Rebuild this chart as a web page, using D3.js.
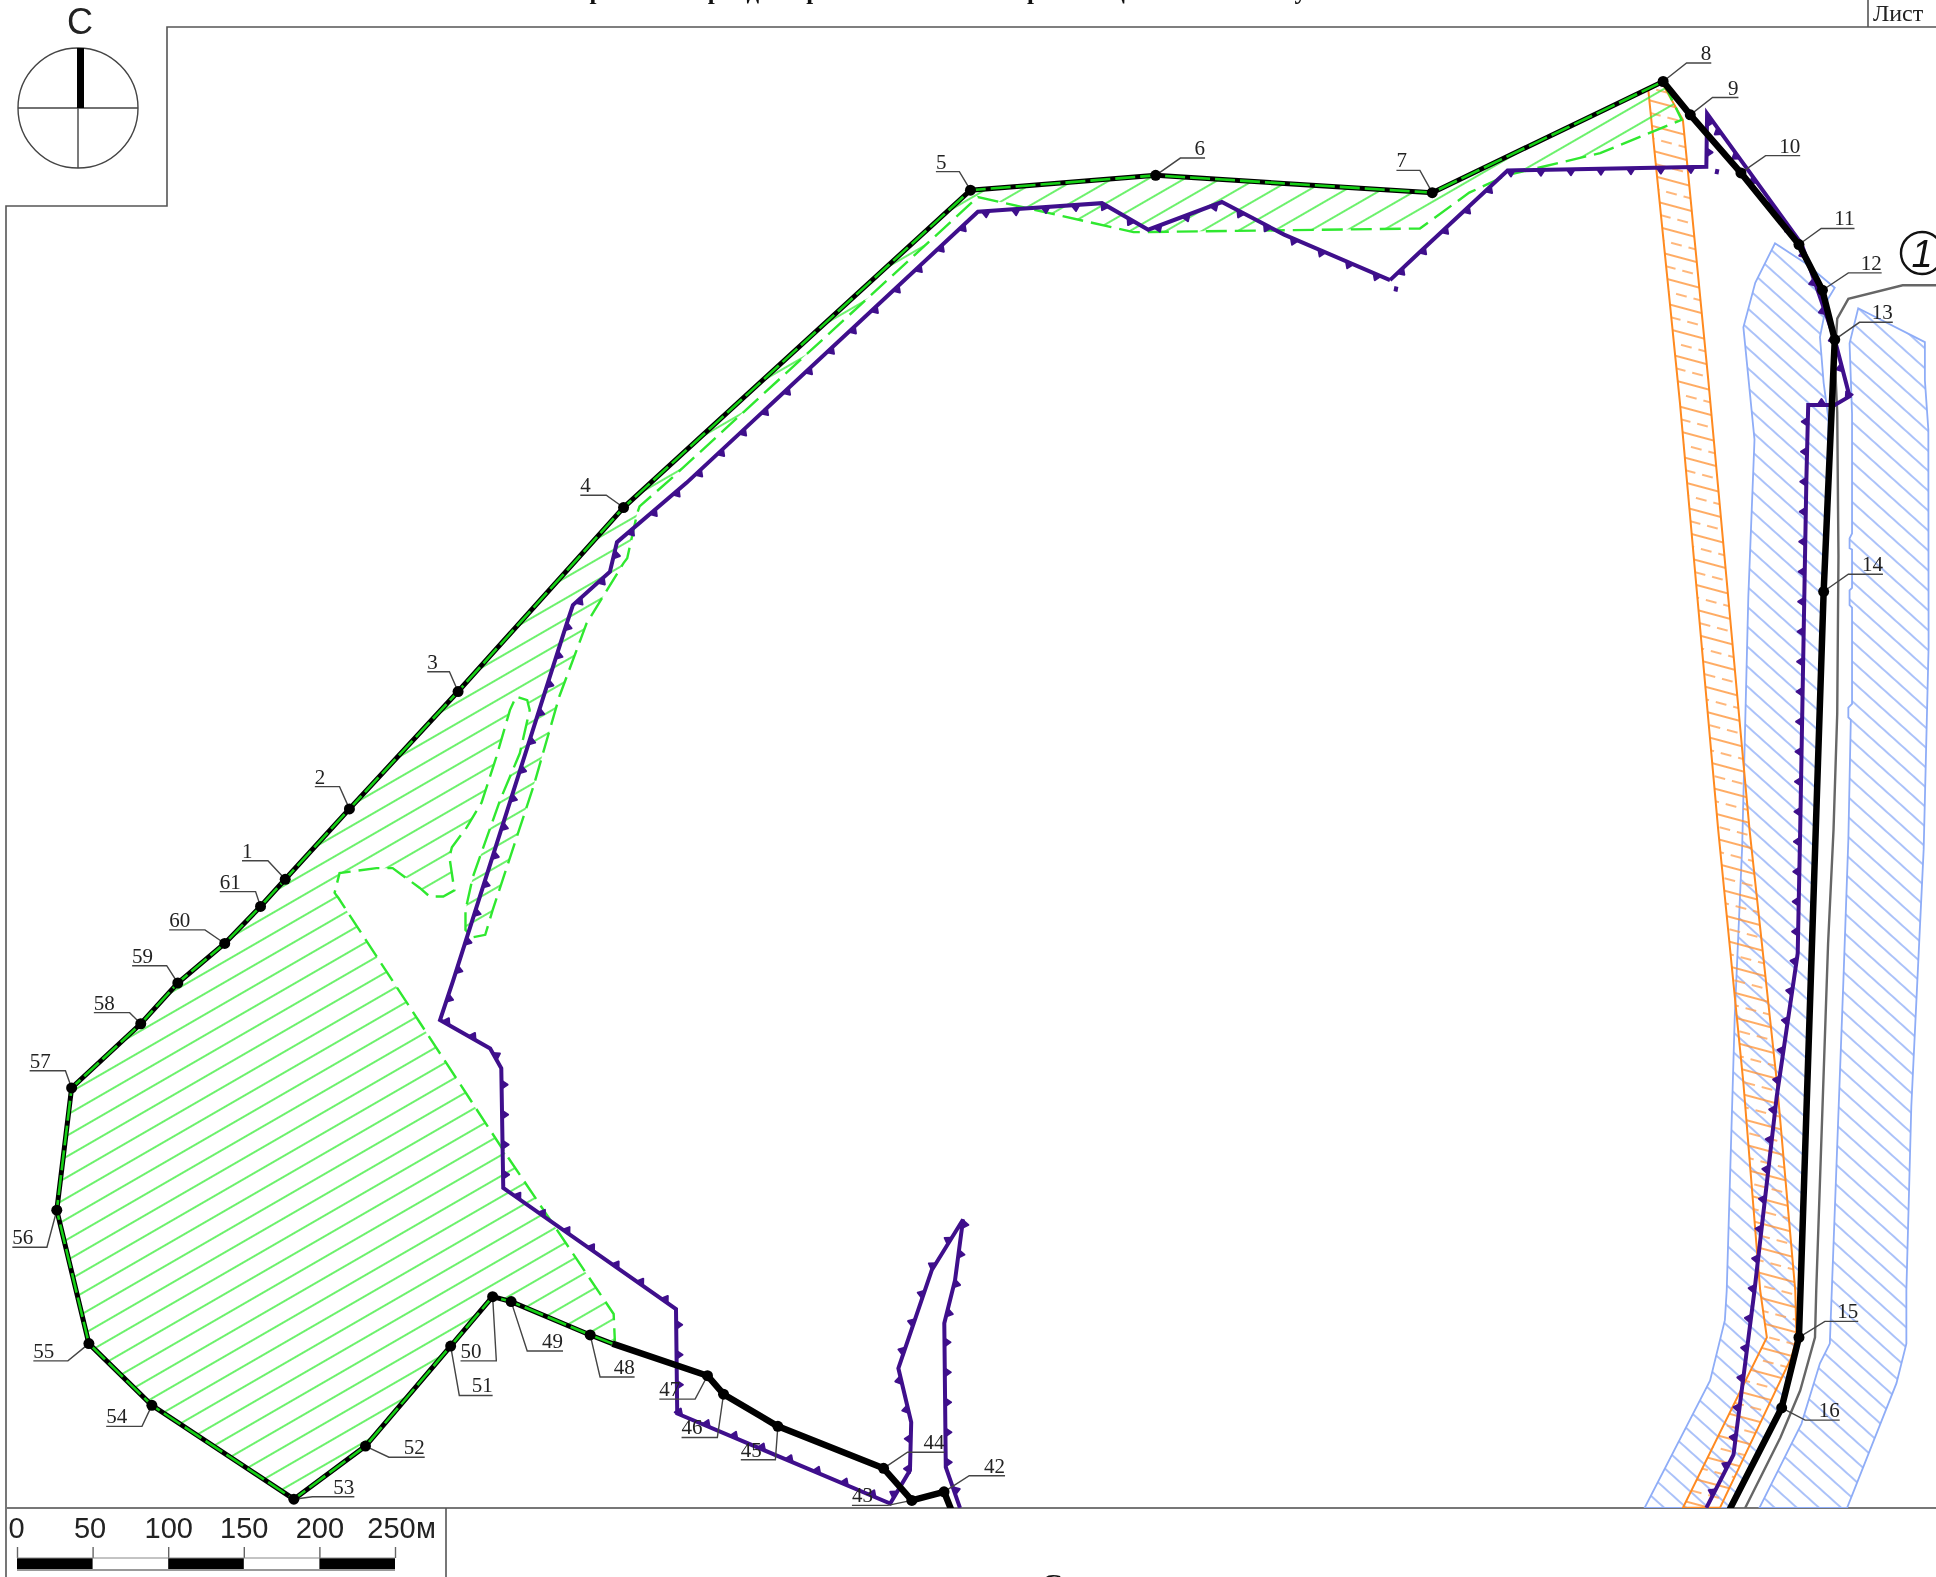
<!DOCTYPE html>
<html>
<head>
<meta charset="utf-8">
<script src="https://d3js.org/d3.v7.min.js"></script>
<style>
html, body { margin: 0; padding: 0; background: #fff; overflow: hidden; }
svg { display: block; filter: blur(0.45px); }
.num { font-family: "Liberation Serif", serif; font-size: 21px; fill: #222; }
.scaletxt { font-family: "Liberation Sans", sans-serif; font-size: 29px; fill: #222; }
</style>
</head>
<body>
<script>

// turning points of the plot boundary: id, x, y
var boundaryEast = [
  [8,1347,66],[9,1369,93],[10,1410,140],[11,1457,198],[12,1476,235],[13,1486,275],
  [14,1477,479],[15,1457,1083],[16,1443,1140]
]
var boundaryTailEast = [[1400,1224]]
var boundarySouth = [
  [42,764.6,1208],[43,738.5,1215],[44,715.6,1189],[45,630,1155],[46,586,1129],[47,573,1114]
]
var boundaryTailSouth = [[771,1224]]
var boundaryWest = [
  [48,478,1081],[49,414,1054],[50,399,1050],[51,365,1090],[52,296,1171],[53,238,1214],
  [54,123,1138],[55,72,1088],[56,46,980],[57,58,881],[58,114,829],[59,144,796],
  [60,182,764],[61,211,734],[1,231,712],[2,283,655],[3,371,560],[4,505,411],
  [5,786,154],[6,936,142],[7,1160,156]
]
var greenStart = [[496,1088]]

// label underlines: id, x from, x to, y
var labelLines = [
  [1,196,217,697],[2,255,275,637],[3,346,364,544],[4,470,491,401],[5,758,777,139],[6,956,976,128],
  [7,1131,1150,138],[8,1366,1386,51],[9,1387,1408,79],[10,1430,1458,126],[11,1475,1502,185],
  [12,1497,1524,221],[13,1506,1533,261],[14,1497,1525,465],[15,1478,1505,1070],[16,1462,1490,1150],
  [42,785,814,1195],[43,690,719,1219],[44,735,765,1176],[45,600,628,1182],[46,552,581,1164],
  [47,534,563,1133],[48,486,514,1115],[49,427,456,1094],[50,373,402,1102],[51,372,399,1130],
  [52,315,344,1180],[53,253,287,1212],[54,86,115,1155],[55,27,55,1102],[56,10,38,1010],
  [57,24,53,867],[58,76,105,820],[59,107,135,782],[60,137,166,753],[61,178,207,722]
]

// inner edge of the green zone, from point 8 back round to the cut at the west side
var greenInner = [
  [1362,97],[1296,124],[1220,142],[1190,156],[1150,185],[918,188],[792,159.5],[542,389],[518,410],[516,416],
  [508,452],[505,456],[475,505],[453,564],[432,637],[399,737],[393,757],[383,759],[377,753],[377,737],
  [383,710],[405,648],[421,610],[429,575],[427,567],[418,564],[413,575],[402,613],[390,650],[378,670],
  [366,686],[364,694],[368,721],[359,726],[348,726],[340,719],[318,703],[305,703],[275,707],[271,723],
  [274,727],[340,828],[410,935],[497,1064],[498,1086]
]

// orange strip
var orangeStrip = [
  [1335,73],[1346,67],[1363,97],[1383.6,308],[1417,672],[1439,875],[1454,1045],[1455,1083],[1451,1099],
  [1393,1221],[1363,1221],[1431,1083],[1425.6,1045],[1412,877],[1391.6,672],[1360.6,326]
]

// blue bands either side of the road
var blueWest = [
  [1437.6,197],[1462,213],[1486,233],[1480,243],[1474,273],[1477,310],[1481,340],[1478,479],[1458,1083],
  [1443,1140],[1400,1221],[1332,1221],[1385,1118],[1397,1069],[1398.5,1045],[1405,823],[1411,686],
  [1416,483],[1421,356],[1412,265],[1421.6,229]
]
var blueEast = [
  [1505,249.6],[1559,277],[1559,308],[1561.8,348],[1562,524],[1558,688],[1548,896],[1544,1045],[1544,1088],
  [1536,1120],[1496,1221],[1425,1221],[1459,1153],[1474,1104],[1482,1088],[1483.6,1045],[1493,794],
  [1497,680],[1499,583],[1497,581],[1497,573],[1500,570],[1500,492],[1498,490],[1498,478],[1500,476],
  [1500,445],[1498,444],[1498,436],[1500,432],[1500,335],[1498,278]
]

// road centre line (grey)
var road = [
  [1570,231],[1541,231],[1497,242],[1488,258],[1486,290],[1488,334],[1489,450],[1488,578],[1485,672],
  [1480.6,764],[1471,1045],[1470,1083],[1458,1126],[1442,1164],[1412,1224]
]

// purple slope lines
var slopeNorthWest = [
  [1125.8,226.8],[1040,190],[989.6,163.6],[930,186],[892.5,164.5],[792,171.5],[556,391],[499.7,439],[494,463],
  [464,490],[459,505],[367,794],[356.4,826],[397,849],[406,865],[407.6,962],[547.5,1060],[548.5,1144.6],
  [721,1217.5],[737,1190.6],[738,1151.7],[727.6,1108],[754.6,1028.6],[780,987.5],[773.5,1036.7],
  [764.8,1071.6],[766,1188],[777.5,1221]
]
var slopeEast = [
  [1125.8,226.8],[1150,204],[1221,138],[1382,135],[1382.6,92],[1458,196],[1460,200],[1486,275],[1498,321],[1486,328],
  [1464.5,328],[1463,389],[1458,672],[1456,772],[1439,888],[1421,1045],[1404,1178],[1382,1221]
]
var strayTicks = [[1391,137],[1131,232]]

// scale bar
var scaleTicks = [0,50,100,150,200,250]
var scaleBlack = [[0,50],[100,150],[200,250]]

var width = 1936, height = 1577
var x = d3.scaleLinear().domain([0,1568]).range([0,width])
var y = d3.scaleLinear().domain([0,1277]).range([0,height])

var svg = d3.select('body').append('svg').attr('width',width).attr('height',height)
var defs = svg.append('defs')

defs.append('clipPath').attr('id','map').append('rect')
  .attr('x',6).attr('y',0).attr('width',width).attr('height',1508)

// hatch patterns ---------------------------------------------------
function hatch(id, angle, step){
  return defs.append('pattern').attr('id',id)
    .attr('patternUnits','userSpaceOnUse')
    .attr('width',36).attr('height',step)
    .attr('patternTransform','rotate(' + angle + ')')
}
hatch('hGreen',-30,18).append('line').attr('x1',0).attr('x2',36).attr('y1',9).attr('y2',9)
  .attr('stroke','#3cec3c').attr('stroke-width',1.5)
hatch('hBlue',42,14.8).append('line').attr('x1',0).attr('x2',36).attr('y1',7).attr('y2',7)
  .attr('stroke','#8fadf7').attr('stroke-width',1.5)
var po = hatch('hOrange',15,24)
po.append('line').attr('x1',0).attr('x2',36).attr('y1',6).attr('y2',6)
  .attr('stroke','#ff9030').attr('stroke-width',1.5)
po.append('line').attr('x1',3).attr('x2',36).attr('y1',18).attr('y2',18)
  .attr('stroke','#ffa050').attr('stroke-width',1.5).attr('stroke-dasharray','11 7')

var line = d3.line().x(function(d){ return x(d[d.length-2]) }).y(function(d){ return y(d[d.length-1]) })

// sheet frame -------------------------------------------------------
var g0 = svg.append('g').attr('fill','none').attr('stroke','#555').attr('stroke-width',1.6)
g0.append('path').attr('d','M6,1577V206H167V27H1936')
g0.append('path').attr('d','M1868,0V27')
g0.append('path').attr('d','M6,1508H1936').attr('stroke','#777').attr('stroke-width',2)
g0.append('path').attr('d','M446,1508V1577')

svg.append('text').attr('x',1873).attr('y',21)
  .style('font','24px "Liberation Serif", serif').attr('fill','#222').text('Лист')
svg.append('text').attr('x',546).attr('y',-1)
  .style('font','bold 25px "Liberation Serif", serif').attr('fill','#111')
  .attr('textLength',880).text('Чертеж предварительных границ лесного участка')
svg.append('text').attr('x',1052).attr('y',1594).attr('text-anchor','middle')
  .style('font','bold 30px "Liberation Serif", serif').attr('fill','#111').text('С')

// compass -----------------------------------------------------------
var comp = svg.append('g').attr('fill','none').attr('stroke','#444').attr('stroke-width',1.4)
comp.append('circle').attr('cx',78).attr('cy',108).attr('r',60)
comp.append('path').attr('d','M18,108H138M78,108V168')
comp.append('path').attr('d','M80.5,48V108').attr('stroke','#000').attr('stroke-width',7)
svg.append('text').attr('x',80).attr('y',34).attr('text-anchor','middle')
  .style('font','36px "Liberation Sans", sans-serif').attr('fill','#222').text('С')

// map ---------------------------------------------------------------
var map = svg.append('g').attr('clip-path','url(#map)')

var zone = boundaryWest.concat(boundaryEast.slice(0,1)).concat(greenInner)

function area(pts, fill, edge, sw){
  map.append('path').attr('d',line(pts)+'Z').attr('fill',fill)
    .attr('stroke',edge).attr('stroke-width',sw)
}
area(blueWest,'url(#hBlue)','#8fadf7',1.8)
area(blueEast,'url(#hBlue)','#8fadf7',1.8)
area(orangeStrip,'url(#hOrange)','#ff8a20',2)

map.append('path').attr('d',line(zone)+'Z').attr('fill','url(#hGreen)').attr('stroke','none')
map.append('path').attr('d',line(boundaryEast.slice(0,1).concat(greenInner))).attr('fill','none')
  .attr('stroke','#2fe82f').attr('stroke-width',2.4).attr('stroke-dasharray','21 8')

map.append('path').attr('d',line(road)).attr('fill','none').attr('stroke','#666').attr('stroke-width',2.4)

// slope lines with ticks on one side
function slope(pts, side){
  var p = map.append('path').attr('d',line(pts)).attr('fill','none')
    .attr('stroke','#3f0f8c').attr('stroke-width',4).attr('stroke-linejoin','miter')
  var node = p.node(), len = node.getTotalLength()
  var ticks = d3.range(14,len,30).map(function(l){
    var a = node.getPointAtLength(l), b = node.getPointAtLength(l+1)
    return {x:a.x, y:a.y, ang:Math.atan2(b.y-a.y,b.x-a.x)*180/Math.PI}
  })
  map.selectAll(null).data(ticks).enter().append('path')
    .attr('d','M-4,0L0,' + (side*6) + 'L4,0Z')
    .attr('transform',function(d){ return 'translate(' + d.x + ',' + d.y + ')rotate(' + d.ang + ')' })
    .attr('fill','#3f0f8c').attr('stroke','#3f0f8c').attr('stroke-width',2).attr('stroke-linejoin','round')
}
slope(slopeNorthWest,-1)
slope(slopeEast,1)
map.selectAll(null).data(strayTicks).enter().append('line')
  .attr('x1',function(d){ return x(d[0]) }).attr('x2',function(d){ return x(d[0])-1 })
  .attr('y1',function(d){ return y(d[1]) }).attr('y2',function(d){ return y(d[1])+5 })
  .attr('stroke','#3f0f8c').attr('stroke-width',4)

// boundary
var thin = greenStart.concat(boundaryWest).concat(boundaryEast.slice(0,1))
var thick1 = boundaryEast.concat(boundaryTailEast)
var thick2 = boundaryTailSouth.concat(boundarySouth).concat(greenStart)

map.append('path').attr('d',line(thin)).attr('fill','none').attr('stroke','#000').attr('stroke-width',5)
map.append('path').attr('d',line(thin)).attr('fill','none').attr('stroke','#16d016').attr('stroke-width',2.6).attr('stroke-dasharray','20 5')
map.append('path').attr('d',line(thick1)).attr('fill','none').attr('stroke','#000').attr('stroke-width',6.5).attr('stroke-linejoin','round')
map.append('path').attr('d',line(thick2)).attr('fill','none').attr('stroke','#000').attr('stroke-width',6.5).attr('stroke-linejoin','round')

var allPoints = boundaryEast.concat(boundarySouth).concat(boundaryWest)
var byId = {}
allPoints.forEach(function(d){ byId[d[0]] = d })

// the number sits flush with the end of the underline away from the leader
function farEnd(d){
  var p = byId[d[0]]
  return Math.abs(p[1]-d[1]) < Math.abs(p[1]-d[2]) ? d[2] : d[1]
}

// labels and leaders
var lab = svg.append('g').selectAll('g').data(labelLines).enter().append('g')
lab.append('path').attr('fill','none').attr('stroke','#444').attr('stroke-width',1.4)
  .attr('d',function(d){
    var p = byId[d[0]], other = farEnd(d)
    var end = other === d[1] ? d[2] : d[1]
    return 'M' + x(p[1]) + ',' + y(p[2]) + 'L' + x(end) + ',' + y(d[3]) + 'L' + x(other) + ',' + y(d[3])
  })
lab.append('text').attr('class','num')
  .attr('x',function(d){ return x(farEnd(d)) })
  .attr('text-anchor',function(d){ return farEnd(d) === d[1] ? 'start' : 'end' })
  .attr('y',function(d){ return y(d[3])-3 })
  .text(function(d){ return d[0] })

svg.append('g').selectAll('circle').data(allPoints).enter().append('circle')
  .attr('cx',function(d){ return x(d[1]) }).attr('cy',function(d){ return y(d[2]) })
  .attr('r',5.5).attr('fill','#000')

// circled road number
svg.append('circle').attr('cx',1922).attr('cy',253).attr('r',21)
  .attr('fill','#fff').attr('stroke','#111').attr('stroke-width',2.4)
svg.append('text').attr('x',1922).attr('y',267).attr('text-anchor','middle')
  .style('font','italic 38px "Liberation Sans", sans-serif').attr('fill','#111').text('1')

// scale bar -------------------------------------------------------
var sx = d3.scaleLinear().domain([0,250]).range([17,395])
var axis = d3.axisTop(sx).tickValues(scaleTicks).tickSize(11).tickPadding(9).tickFormat(d3.format('d'))
var ag = svg.append('g').attr('transform','translate(0,1558)').call(axis)
ag.select('.domain').remove()
ag.selectAll('line').attr('stroke','#666').attr('stroke-width',1.4)
ag.selectAll('text').attr('class','scaletxt').attr('fill','#222')
ag.attr('font-family',null).attr('font-size',null)
ag.selectAll('.tick text').attr('dx',function(d){ return d === 250 ? -4 : (d === 0 ? -1 : (d === 50 ? -3 : 0)) })
svg.append('text').attr('class','scaletxt').attr('x',416).attr('y',1538).text('м')
svg.selectAll('rect.bar').data(scaleBlack).enter().append('rect').attr('class','bar')
  .attr('x',function(d){ return sx(d[0]) }).attr('width',function(d){ return sx(d[1])-sx(d[0]) })
  .attr('y',1558).attr('height',11).attr('fill','#000')
svg.append('path').attr('d','M' + sx(0) + ',1558H' + sx(250)).attr('stroke','#888').attr('stroke-width',1)
svg.append('path').attr('d','M' + sx(0) + ',1570H' + sx(250)).attr('stroke','#999').attr('stroke-width',2)
</script>
</body>
</html>
